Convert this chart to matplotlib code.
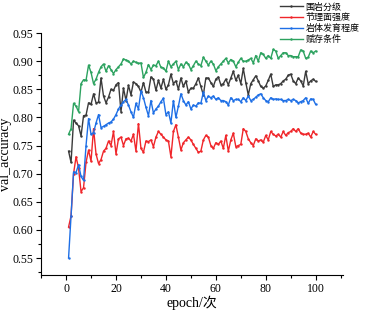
import matplotlib

matplotlib.use("Agg")

import matplotlib.pyplot as plt
import numpy as np
from matplotlib.ticker import FormatStrFormatter, MultipleLocator

plt.rcParams["font.family"] = ["Liberation Serif", "Noto Sans CJK SC"]

epochs = np.arange(1, 101)

grade = [
    0.740, 0.720, 0.795, 0.790, 0.785, 0.767, 0.803, 0.804, 0.826, 0.823,
    0.842, 0.826, 0.827, 0.870, 0.838, 0.826, 0.836, 0.850, 0.848, 0.858,
    0.862, 0.810, 0.852, 0.830, 0.857, 0.840, 0.863, 0.860, 0.855, 0.845,
    0.862, 0.845, 0.845, 0.872, 0.868, 0.848, 0.866, 0.852, 0.868, 0.850,
    0.858, 0.877, 0.860, 0.865, 0.850, 0.870, 0.855, 0.865, 0.845, 0.852,
    0.852, 0.860, 0.870, 0.855, 0.840, 0.870, 0.870, 0.862, 0.855, 0.868,
    0.872, 0.858, 0.860, 0.868, 0.858, 0.870, 0.882, 0.866, 0.875, 0.860,
    0.887, 0.862, 0.840, 0.860, 0.867, 0.874, 0.865, 0.855, 0.852, 0.856,
    0.866, 0.877, 0.855, 0.858, 0.858, 0.860, 0.865, 0.868, 0.875, 0.877,
    0.865, 0.860, 0.870, 0.865, 0.856, 0.882, 0.860, 0.865, 0.868, 0.864,
]
joint = [
    0.605, 0.625, 0.700, 0.730, 0.710, 0.668, 0.675, 0.720, 0.742, 0.722,
    0.780, 0.735, 0.718, 0.725, 0.740, 0.745, 0.758, 0.750, 0.775, 0.735,
    0.762, 0.765, 0.750, 0.762, 0.763, 0.758, 0.770, 0.740, 0.789, 0.745,
    0.738, 0.758, 0.757, 0.760, 0.748, 0.765, 0.775, 0.770, 0.765, 0.760,
    0.758, 0.730, 0.775, 0.787, 0.765, 0.742, 0.755, 0.760, 0.765, 0.760,
    0.752, 0.745, 0.738, 0.740, 0.760, 0.768, 0.765, 0.750, 0.745, 0.755,
    0.752, 0.758, 0.745, 0.768, 0.740, 0.760, 0.772, 0.748, 0.750, 0.752,
    0.780, 0.775, 0.762, 0.755, 0.750, 0.762, 0.758, 0.760, 0.756, 0.768,
    0.760, 0.775, 0.770, 0.767, 0.770, 0.765, 0.775, 0.768, 0.773, 0.775,
    0.780, 0.775, 0.780, 0.772, 0.770, 0.770, 0.772, 0.765, 0.775, 0.770,
]
develop = [
    0.550, 0.625, 0.703, 0.702, 0.716, 0.695, 0.688, 0.750, 0.798, 0.770,
    0.773, 0.790, 0.805, 0.782, 0.784, 0.787, 0.790, 0.792, 0.797, 0.805,
    0.815, 0.822, 0.828, 0.832, 0.822, 0.810, 0.800, 0.825, 0.815, 0.847,
    0.835, 0.818, 0.803, 0.830, 0.808, 0.815, 0.820, 0.828, 0.834, 0.805,
    0.810, 0.790, 0.830, 0.800, 0.820, 0.842, 0.830, 0.822, 0.828, 0.815,
    0.822, 0.820, 0.826, 0.825, 0.845, 0.830, 0.838, 0.835, 0.838, 0.832,
    0.835, 0.830, 0.830, 0.828, 0.822, 0.835, 0.830, 0.832, 0.832, 0.828,
    0.835, 0.830, 0.838, 0.830, 0.832, 0.836, 0.840, 0.842, 0.835, 0.830,
    0.828, 0.835, 0.832, 0.833, 0.832, 0.832, 0.830, 0.830, 0.832, 0.830,
    0.832, 0.830, 0.826, 0.828, 0.830, 0.835, 0.825, 0.833, 0.832, 0.823,
]
occurrence = [
    0.770, 0.780, 0.825, 0.820, 0.810, 0.860, 0.867, 0.866, 0.893, 0.880,
    0.860, 0.868, 0.880, 0.890, 0.895, 0.882, 0.892, 0.885, 0.878, 0.885,
    0.890, 0.895, 0.904, 0.902, 0.900, 0.895, 0.900, 0.898, 0.896, 0.897,
    0.871, 0.880, 0.894, 0.885, 0.893, 0.892, 0.900, 0.889, 0.888, 0.882,
    0.900, 0.890, 0.895, 0.900, 0.885, 0.895, 0.890, 0.898, 0.895, 0.885,
    0.892, 0.900, 0.895, 0.892, 0.907, 0.900, 0.893, 0.900, 0.895, 0.883,
    0.890, 0.895, 0.900, 0.905, 0.897, 0.903, 0.900, 0.890, 0.898, 0.905,
    0.900, 0.900, 0.902, 0.905, 0.897, 0.910, 0.900, 0.915, 0.912, 0.905,
    0.910, 0.905, 0.921, 0.918, 0.905, 0.910, 0.915, 0.915, 0.910, 0.910,
    0.908, 0.908, 0.908, 0.920, 0.918, 0.905, 0.907, 0.918, 0.915, 0.918,
]

series = [
    ("围岩分级", grade, "#3a3a3a"),
    ("节理面强度", joint, "#f0262a"),
    ("岩体发育程度", develop, "#1e6fe6"),
    ("赋存条件", occurrence, "#2ca25f"),
]

fig = plt.figure(figsize=(3.67, 3.12), dpi=100)
ax = fig.add_axes([0.112, 0.119, 0.823, 0.775])

for label, values, color in series:
    ax.plot(epochs, values, color=color, linewidth=1.0, marker=".", markersize=1.5, label=label)

ax.set_xlim(-10, 111)
ax.set_ylim(0.52, 0.95)
ax.xaxis.set_major_locator(MultipleLocator(20))
ax.xaxis.set_minor_locator(MultipleLocator(10))
ax.yaxis.set_major_locator(MultipleLocator(0.05))
ax.yaxis.set_minor_locator(MultipleLocator(0.025))
ax.yaxis.set_major_formatter(FormatStrFormatter("%.2f"))
ax.tick_params(which="both", direction="out", labelsize=8.5, width=0.8, pad=2)
ax.tick_params(which="major", length=3.5)
ax.tick_params(which="minor", length=2)
ax.spines["top"].set_visible(False)
ax.spines["right"].set_visible(False)

ax.set_xlabel("epoch/次", fontsize=10)
ax.set_ylabel("val_accuracy", fontsize=10)
ax.xaxis.set_label_coords(0.5, -0.085)
ax.yaxis.set_label_coords(-0.095, 0.5)

ax.legend(
    loc="upper left",
    bbox_to_anchor=(0.747, 1.01),
    bbox_transform=fig.transFigure,
    frameon=False,
    fontsize=6.5,
    handlelength=2.6,
    handletextpad=0.3,
    labelspacing=0.2,
    borderpad=0.1,
)

fig.savefig("out.png", dpi=100)
